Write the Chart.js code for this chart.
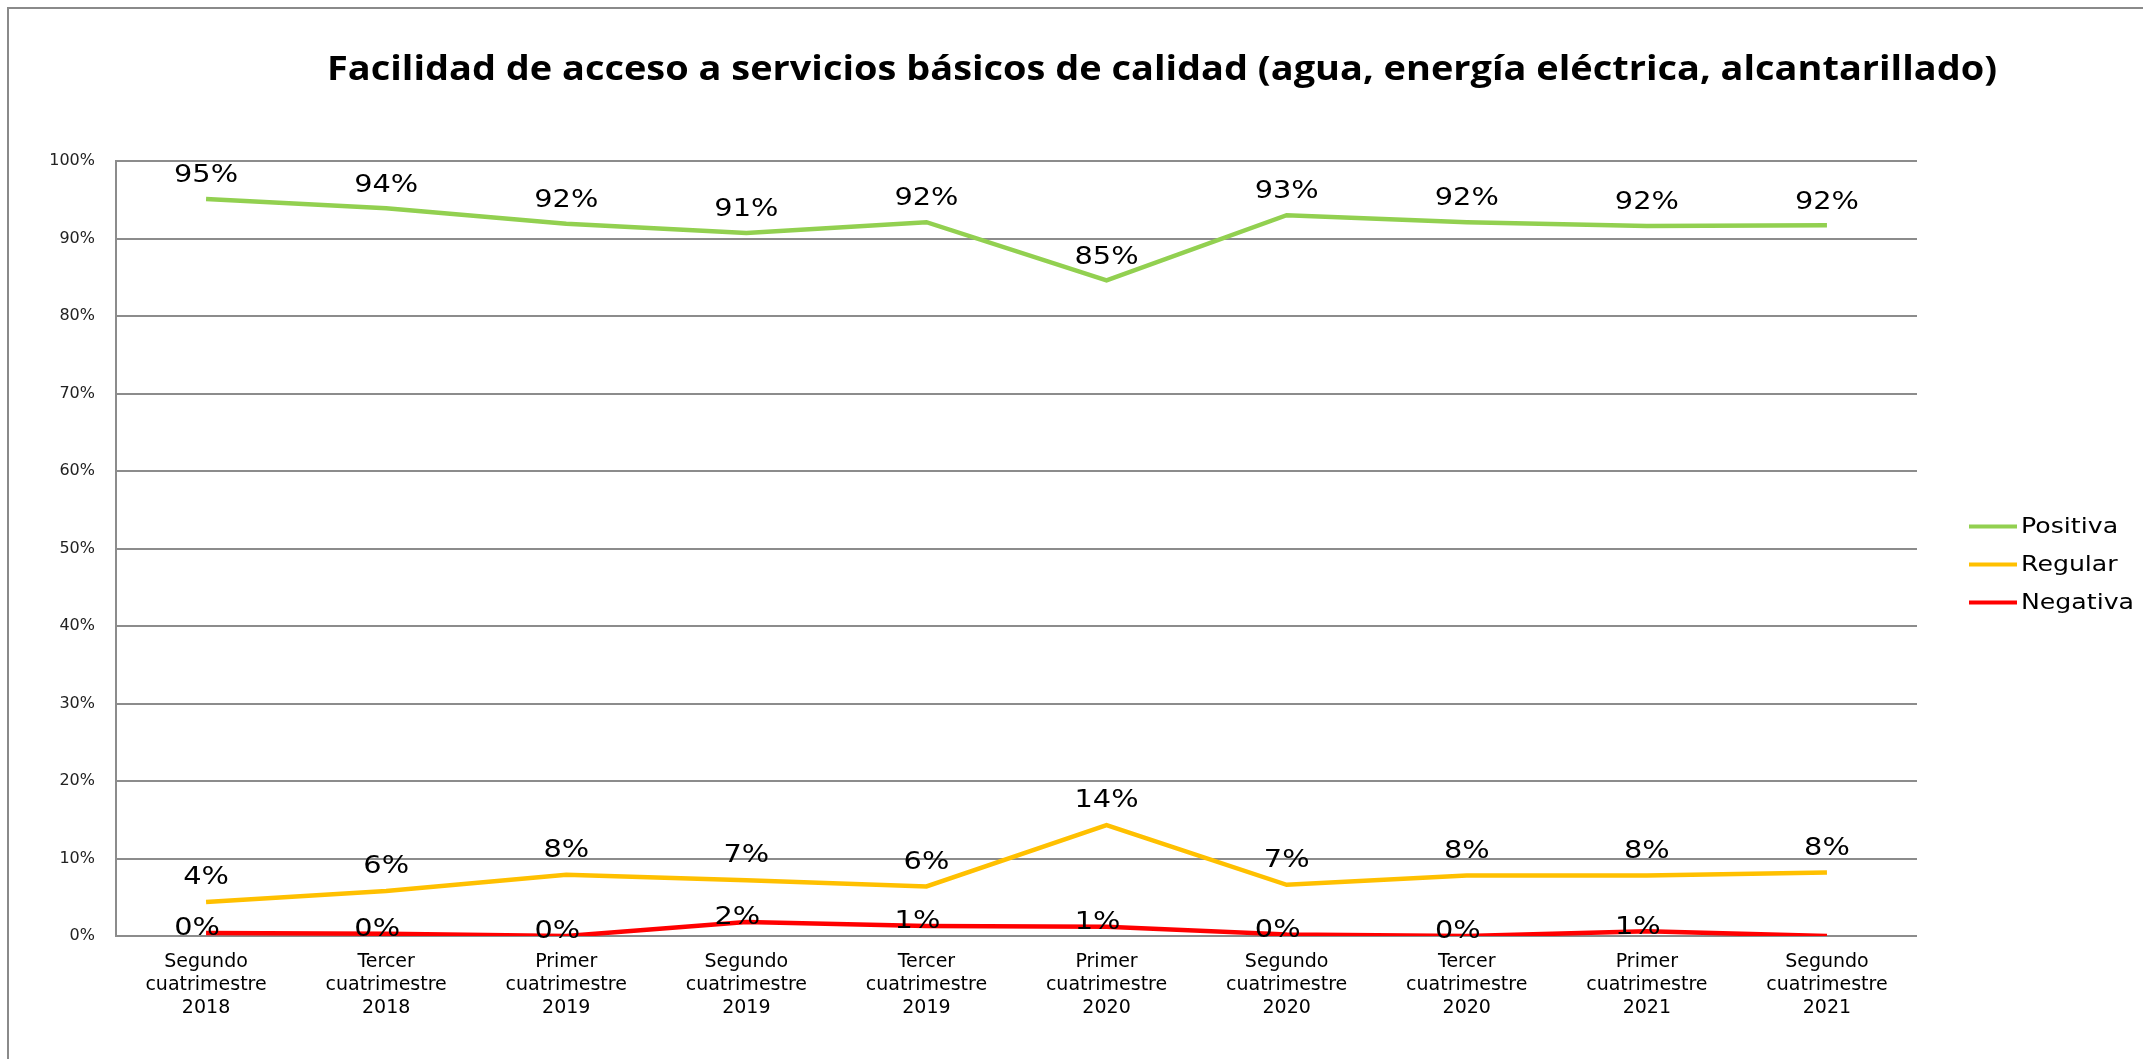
<!DOCTYPE html>
<html>
<head>
<meta charset="utf-8">
<script src="https://cdn.jsdelivr.net/npm/chart.js"></script>
<style>
  html, body { margin: 0; padding: 0; background: #fff; }
  #wrap { width: 2143px; height: 1059px; }
</style>
</head>
<body>
<div id="wrap"><canvas id="accesoChart" width="2143" height="1059"></canvas></div>
<script>
// Datos
const periodos = [
  ['Segundo', 'cuatrimestre', '2018'],
  ['Tercer', 'cuatrimestre', '2018'],
  ['Primer', 'cuatrimestre', '2019'],
  ['Segundo', 'cuatrimestre', '2019'],
  ['Tercer', 'cuatrimestre', '2019'],
  ['Primer', 'cuatrimestre', '2020'],
  ['Segundo', 'cuatrimestre', '2020'],
  ['Tercer', 'cuatrimestre', '2020'],
  ['Primer', 'cuatrimestre', '2021'],
  ['Segundo', 'cuatrimestre', '2021']
];
const positiva = [95.1, 93.9, 91.9, 90.7, 92.1, 84.6, 93.0, 92.1, 91.6, 91.7];
const regular  = [4.4, 5.8, 7.9, 7.2, 6.4, 14.3, 6.6, 7.8, 7.8, 8.2];
const negativa = [0.4, 0.3, 0.0, 1.8, 1.3, 1.2, 0.2, 0.0, 0.6, 0.0];
// el último punto de Negativa no lleva etiqueta en el original
const negativaSinEtiqueta = [9];
const yTicks = [0, 10, 20, 30, 40, 50, 60, 70, 80, 90, 100];

const titulo = 'Facilidad de acceso a servicios básicos de calidad (agua, energía eléctrica, alcantarillado)';

// texto estirado en horizontal, como en la imagen original
function textoAncho(ctx, txt, x, y, sx, align) {
  const w = ctx.measureText(txt).width * sx;
  let left = x;
  if (align === 'center') left = x - w / 2;
  ctx.save();
  ctx.textAlign = 'left';
  ctx.translate(left, y);
  ctx.scale(sx, 1);
  ctx.fillText(txt, 0, 0);
  ctx.restore();
}

// marco, título, leyenda y etiquetas de datos
const extras = {
  id: 'extras',
  beforeDraw(chart) {
    const ctx = chart.ctx;
    ctx.save();
    ctx.strokeStyle = '#8a8a8a';
    ctx.lineWidth = 2;
    ctx.beginPath();
    ctx.moveTo(8, chart.height);
    ctx.lineTo(8, 8);
    ctx.lineTo(chart.width, 8);
    ctx.stroke();
    ctx.restore();
  },
  afterDatasetsDraw(chart) {
    const ctx = chart.ctx;
    const area = chart.chartArea;

    // etiquetas de datos
    ctx.save();
    ctx.font = '24px "DejaVu Sans"';
    ctx.fillStyle = '#000';
    ctx.textBaseline = 'middle';
    const offsets = [23, 24, 4];
    const shifts = [0, 0, -9];
    chart.data.datasets.forEach((ds, di) => {
      const meta = chart.getDatasetMeta(di);
      meta.data.forEach((pt, i) => {
        if (di === 2 && negativaSinEtiqueta.includes(i)) return;
        textoAncho(ctx, Math.round(ds.data[i]) + '%', pt.x + shifts[di], pt.y - offsets[di], 1.2, 'center');
      });
    });
    ctx.restore();

    // título
    ctx.save();
    ctx.font = 'bold 34px "Open Sans"';
    ctx.fillStyle = '#000';
    ctx.textBaseline = 'middle';
    const w = ctx.measureText(titulo).width;
    const target = 1670;
    ctx.translate(1162 - target / 2, 70);
    ctx.scale(target / w, 1);
    ctx.fillText(titulo, 0, 0);
    ctx.restore();

    // leyenda
    ctx.save();
    ctx.font = '21px "DejaVu Sans"';
    ctx.textBaseline = 'middle';
    const cy = (area.top + area.bottom) / 2 + 16;
    chart.data.datasets.forEach((ds, di) => {
      const y = cy + (di - 1) * 38;
      const x0 = area.right + 52;
      ctx.strokeStyle = ds.borderColor;
      ctx.lineWidth = 4;
      ctx.beginPath();
      ctx.moveTo(x0, y);
      ctx.lineTo(x0 + 48, y);
      ctx.stroke();
      ctx.fillStyle = '#000';
      textoAncho(ctx, ds.label, x0 + 52, y + 1, 1.2, 'left');
    });
    ctx.restore();
  }
};

const ctx = document.getElementById('accesoChart').getContext('2d');
new Chart(ctx, {
  type: 'line',
  data: {
    labels: periodos,
    datasets: [
      { label: 'Positiva', data: positiva, borderColor: '#92D050', borderWidth: 4.5, pointRadius: 0, fill: false, tension: 0 },
      { label: 'Regular', data: regular, borderColor: '#FFC000', borderWidth: 4.5, pointRadius: 0, fill: false, tension: 0 },
      { label: 'Negativa', data: negativa, borderColor: '#FF0000', borderWidth: 4.5, pointRadius: 0, fill: false, tension: 0 }
    ]
  },
  options: {
    responsive: false,
    animation: false,
    events: [],
    layout: {
      padding: { left: 0, top: 161, right: 226, bottom: 23 }
    },
    plugins: {
      legend: { display: false },
      title: { display: false },
      tooltip: { enabled: false }
    },
    scales: {
      x: {
        offset: true,
        grid: { display: false, drawTicks: false },
        border: { display: false },
        ticks: {
          color: '#000',
          font: { family: '"DejaVu Sans"', size: 19, lineHeight: 1.2 },
          padding: 15,
          maxRotation: 0,
          autoSkip: false
        },
        afterFit(scale) { scale.height = 100; }
      },
      y: {
        min: 0,
        max: 100,
        afterBuildTicks(scale) { scale.ticks = yTicks.map(v => ({ value: v })); },
        grid: { color: '#8c8c8c', lineWidth: 2, drawTicks: false },
        border: { display: true, color: '#8c8c8c', width: 2 },
        ticks: {
          color: '#222',
          font: { family: '"DejaVu Sans"', size: 16 },
          padding: 21,
          callback: v => v + '%'
        },
        afterFit(scale) { scale.width = 116; }
      }
    }
  },
  plugins: [extras]
});
</script>
</body>
</html>
